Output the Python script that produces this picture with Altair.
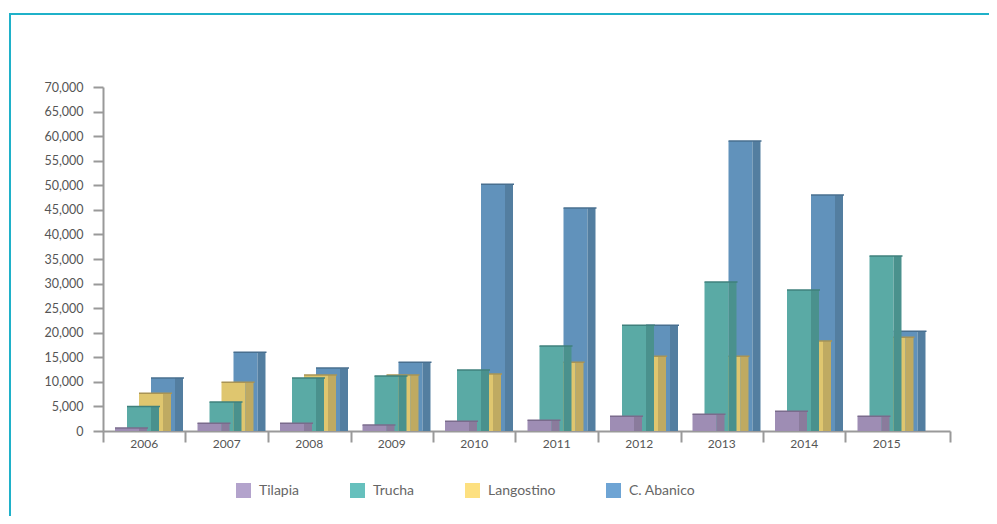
import altair as alt
import pandas as pd

# ---- data ----
years = ["2006", "2007", "2008", "2009", "2010", "2011", "2012", "2013", "2014", "2015"]
series = ["Tilapia", "Trucha", "Langostino", "C. Abanico"]
tilapia = [600, 1600, 1600, 1200, 2000, 2200, 3000, 3400, 4000, 3000]
trucha = [5000, 5900, 10800, 11200, 12400, 17300, 21500, 30300, 28700, 35600]
langostino = [7700, 9900, 11400, 11400, 11600, 14000, 15200, 15200, 18300, 19100]
abanico = [10800, 16000, 12800, 14000, 50200, 45400, 21500, 59000, 48000, 20300]
y_ticks = list(range(0, 70001, 5000))

# ---- styling ----
front_colors = ["#9e8db4", "#5aaaa5", "#dfc66f", "#6192bb"]
side_colors = ["#8a7b9c", "#4a918d", "#bfaa62", "#537ea0"]
cap_colors = ["#7a6b8c", "#3f807c", "#a99455", "#486f8f"]
legend_colors = ["#b3a3cc", "#66c0bd", "#fde080", "#6ea4d4"]

STEP = 82.5          # pixels per year group
PLOT_W, PLOT_H = 847, 344
FRONT_W, SIDE_W, SHIFT, LEAD = 24, 8, 12, 12

values = [tilapia, trucha, langostino, abanico]
rows = []
for i, yr in enumerate(years):
    for s, name in enumerate(series):
        x0 = i + (LEAD + SHIFT * s) / STEP
        rows.append({
            "year": yr, "series": name, "value": values[s][i], "base": 0,
            "x0": x0, "x1": x0 + FRONT_W / STEP, "x2": x0 + (FRONT_W + SIDE_W) / STEP,
            "xc": x0 + (FRONT_W + SIDE_W + 1) / STEP,
        })
df = pd.DataFrame(rows)
lab_df = pd.DataFrame({"year": years, "pos": [i + 0.5 for i in range(len(years))]})

xdom = [0, PLOT_W / STEP]
xscale = alt.Scale(domain=xdom, nice=False, zero=False)
yscale = alt.Scale(domain=[0, 70000], nice=False)

base = alt.Chart(df)

x_axis = alt.Axis(values=list(range(0, 10)) + [PLOT_W / STEP], labels=False, title=None,
                  tickSize=11)
y_axis = alt.Axis(values=y_ticks, title=None, tickSize=10, labelPadding=10,
                  labelExpr="format(datum.value, ',')")


def X(field):
    return alt.X(field, scale=xscale, axis=x_axis)


def Y(field):
    return alt.Y(field, scale=yscale, axis=y_axis)


layers = []
for s in [3, 2, 1, 0]:
    name = series[s]
    sub = base.transform_filter(alt.datum.series == name)
    front = sub.mark_rect(color=front_colors[s]).encode(
        x=X("x0:Q"), x2="x1:Q", y=Y("value:Q"), y2="base:Q")
    side = sub.mark_rect(color=side_colors[s]).encode(
        x=X("x1:Q"), x2="x2:Q", y=Y("value:Q"), y2="base:Q")
    cap = sub.mark_rule(color=cap_colors[s], strokeWidth=1.5).encode(
        x=X("x0:Q"), x2="xc:Q", y=Y("value:Q"))
    layers += [front, side, cap]

labels = alt.Chart(lab_df).mark_text(font="Lato", fontSize=12, color="#555",
                                     baseline="middle").encode(
    x=X("pos:Q"),
    y=alt.value(PLOT_H + 13),
    text="year:N")

legend_layer = base.mark_square(size=0).encode(
    color=alt.Color("series:N", sort=series,
                    scale=alt.Scale(domain=series, range=legend_colors),
                    legend=alt.Legend(orient="none", legendX=133, legendY=396,
                                      direction="horizontal", title=None,
                                      symbolType="square", symbolSize=225,
                                      symbolOpacity=1, symbolStrokeWidth=0,
                                      labelFont="Lato", labelFontSize=14,
                                      labelColor="#666", labelOffset=8,
                                      columnPadding=50, padding=0)),
    x=alt.value(0), y=alt.value(0))

frame_df = pd.DataFrame({"k": [0]})
frame_top = alt.Chart(frame_df).mark_rule(color="#1fb1c9", strokeWidth=2).encode(
    x=alt.value(-93), x2=alt.value(1000), y=alt.value(-73))
frame_left = alt.Chart(frame_df).mark_rule(color="#1fb1c9", strokeWidth=2).encode(
    x=alt.value(-93), y=alt.value(-74), y2=alt.value(500))

chart = alt.layer(*layers, labels, legend_layer, frame_top, frame_left).properties(
    width=PLOT_W, height=PLOT_H,
    autosize=alt.AutoSizeParams(type="none"),
    padding={"left": 95, "top": 79, "right": 39, "bottom": 85},
).configure(background="white").configure_view(stroke=None).configure_axis(
    grid=False, domainColor="#999", domainWidth=2, tickColor="#999", tickWidth=2,
    labelFont="Lato", labelFontSize=12.5, labelColor="#555")

chart.save("out.html", embed_options={"renderer": "svg", "actions": False})
